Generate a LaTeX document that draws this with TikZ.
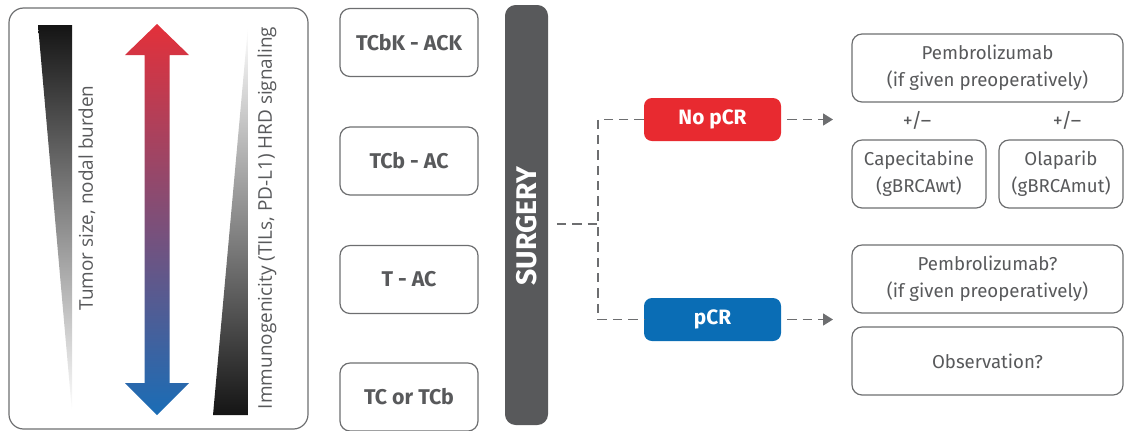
\documentclass[tikz,border=0pt]{standalone}
\usepackage{fontspec}
\setmainfont{Fira Sans}
\newfontfamily\opensans{Open Sans}
\usetikzlibrary{arrows.meta}
\definecolor{txt}{HTML}{58595B}
\definecolor{bord}{HTML}{6D6E70}
\definecolor{surg}{HTML}{58595B}
\definecolor{nored}{HTML}{E82A30}
\definecolor{pblue}{HTML}{0A6DB5}
\definecolor{arrred}{HTML}{E3303A}
\definecolor{arrmid}{HTML}{8A5878}
\definecolor{arrblue}{HTML}{1A6DB6}
\begin{document}
\begin{tikzpicture}[x=0.75pt,y=-0.75pt,
  regbox/.style={draw=bord, line width=0.9pt, rounded corners=7.5pt, inner sep=0pt,
    minimum width=103.5pt, minimum height=51pt, text=txt,
    font=\fontsize{16}{18}\selectfont\bfseries},
  outbox/.style={draw=bord, line width=0.9pt, rounded corners=7.5pt, inner sep=0pt,
    minimum height=51pt, text=txt, align=center,
    font=\fontsize{14}{20.25}\selectfont},
  statebox/.style={rounded corners=6pt, inner sep=0pt, minimum width=102.75pt,
    minimum height=32.25pt, text=white, font=\fontsize{15.6}{17}\selectfont\bfseries},
  sidetext/.style={rotate=90, text=txt, inner sep=0pt, font=\opensans\fontsize{14.2}{16}\selectfont},
  plain/.style={text=txt, inner sep=0pt, font=\fontsize{15}{16}\selectfont},
  dline/.style={draw=bord, line width=1.1pt, dash pattern=on 7pt off 4.5pt},
  arr/.style={dline, -{Triangle[length=7.5pt,width=9pt]}}]
\useasboundingbox (0,0) rectangle (1126,430);
% left panel
\draw[bord, line width=0.9pt, rounded corners=11pt] (9,8) rectangle (308,429);
\shade[top color=black!92, bottom color=white] (38,25) -- (72,25) -- (72,412) -- cycle;
\shade[top color=white, bottom color=black!92] (248,26) -- (248,415) -- (213,415) -- cycle;
\shade[top color=arrred, middle color=arrmid, bottom color=arrblue]
  (157,24) -- (189,55) -- (169.5,55) -- (169.5,383) -- (189,383) -- (157,415)
  -- (125,383) -- (144.5,383) -- (144.5,55) -- (125,55) -- cycle;
\node[sidetext] (tumor) at (87,198) {Tumor size, nodal burden};
\node[sidetext] (immuno) at (267,218) {Immunogenicity (TILs, PD-L1) HRD signaling};
% regimens
\node[regbox] (r1) at (409,42.5) {TCbK - ACK};
\node[regbox] (r2) at (409,161) {TCb - AC};
\node[regbox] (r3) at (409,279.5) {T - AC};
\node[regbox] (r4) at (409,397) {TC or TCb};
% surgery
\node[fill=surg, rounded corners=8pt, inner sep=0pt, minimum width=32.25pt, minimum height=315pt] (surg) at (526.5,215) {};
\node[rotate=90, text=white, inner sep=0pt, font=\fontsize{21.3}{22}\selectfont\bfseries] (surgtext) at (527,226) {SURGERY};
% states
\node[statebox, fill=nored] (nopcr) at (712.5,119.5) {No pCR};
\node[statebox, fill=pblue] (pcr) at (712.5,319.5) {pCR};
\coordinate (junc) at (598,224);
\coordinate (natip) at (833,119.5);
\coordinate (ptip) at (833,319.5);
\draw[dline, shorten <=6.5pt] (surg.east |- junc) -- (junc);
\draw[dline] (nopcr.west) -| (junc) |- (pcr.west);
\draw[arr, shorten <=4.5pt] (nopcr.east) -- (natip);
\draw[arr, shorten <=4.5pt] (pcr.east) -- (ptip);
% outcomes
\node[outbox, minimum width=203.25pt] (pemb1) at (987.5,68) {Pembrolizumab\\(if given preoperatively)};
\node[plain] (pm1) at (917,120) {+/--};
\node[plain] (pm2) at (1067,120) {+/--};
\node[outbox, minimum width=100.5pt] (cape) at (919,174) {Capecitabine\\(gBRCAwt)};
\node[outbox, minimum width=93pt] (olap) at (1061,174) {Olaparib\\(gBRCAmut)};
\node[outbox, minimum width=203.25pt] (pemb2) at (987.5,279) {Pembrolizumab?\\(if given preoperatively)};
\node[outbox, minimum width=203.25pt] (obs) at (987.5,361) {Observation?};
\end{tikzpicture}
\end{document}
